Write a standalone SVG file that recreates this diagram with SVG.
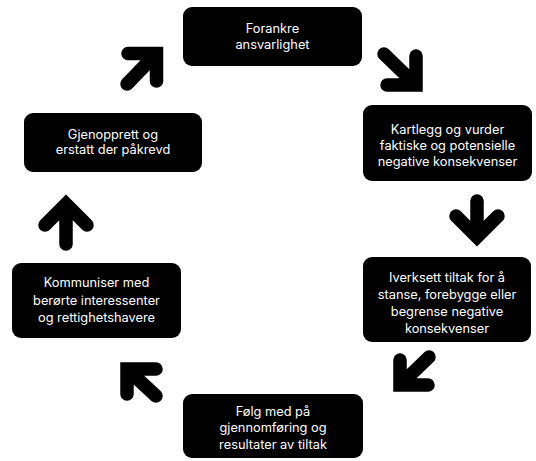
<svg xmlns="http://www.w3.org/2000/svg" width="536" height="461" viewBox="0 0 536 461">
<style>
.box{fill:#000}
.t{font-family:Inter,"Liberation Sans",sans-serif;font-size:12.8px;fill:#fff;text-anchor:middle}
.arr{fill:none;stroke:#000;stroke-width:13.5;stroke-linecap:round;stroke-linejoin:miter}
</style>
<rect width="536" height="461" fill="#fff"/>
<g id="node1"><rect class="box" x="183" y="7" width="179" height="59" rx="9"/>
<text class="t" x="272.5" y="33">Forankre</text><text class="t" x="272.5" y="49">ansvarlighet</text></g>
<g id="node2"><rect class="box" x="363" y="105" width="169" height="76" rx="9"/>
<text class="t" x="447.5" y="134">Kartlegg og vurder</text><text class="t" x="447.5" y="150">faktiske og potensielle</text><text class="t" x="447.5" y="166">negative konsekvenser</text></g>
<g id="node3"><rect class="box" x="363" y="257" width="168" height="85" rx="9"/>
<text class="t" x="447" y="282">Iverksett tiltak for å</text><text class="t" x="447" y="299">stanse, forebygge eller</text><text class="t" x="447" y="316">begrense negative</text><text class="t" x="447" y="333">konsekvenser</text></g>
<g id="node4"><rect class="box" x="183" y="394" width="180" height="64" rx="9"/>
<text class="t" x="273" y="416">Følg med på</text><text class="t" x="273" y="432">gjennomføring og</text><text class="t" x="273" y="449">resultater av tiltak</text></g>
<g id="node5"><rect class="box" x="12" y="263" width="169" height="75" rx="9"/>
<text class="t" x="96.5" y="287">Kommuniser med</text><text class="t" x="96.5" y="305">berørte interessenter</text><text class="t" x="96.5" y="322">og rettighetshavere</text></g>
<g id="node6"><rect class="box" x="24" y="113" width="178" height="59" rx="9"/>
<text class="t" x="113" y="139">Gjenopprett og</text><text class="t" x="113" y="154">erstatt der påkrevd</text></g>
<g id="connectors">
<path class="arr" d="M128,53.5 H156.5 V81 M156.5,53.5 L127,84"/>
<path class="arr" d="M416,56 V85 H387 M416,85 L384,54"/>
<path class="arr" d="M477,201 V237 M456,216 L477,237 L498,216"/>
<path class="arr" d="M400,360 V385 H428 M400,385 L429,357"/>
<path class="arr" d="M156,369 H127 V394 M127,369 L156,396"/>
<path class="arr" d="M66,244 V204 M45,225 L66,204 L87,225"/>
</g>
</svg>
